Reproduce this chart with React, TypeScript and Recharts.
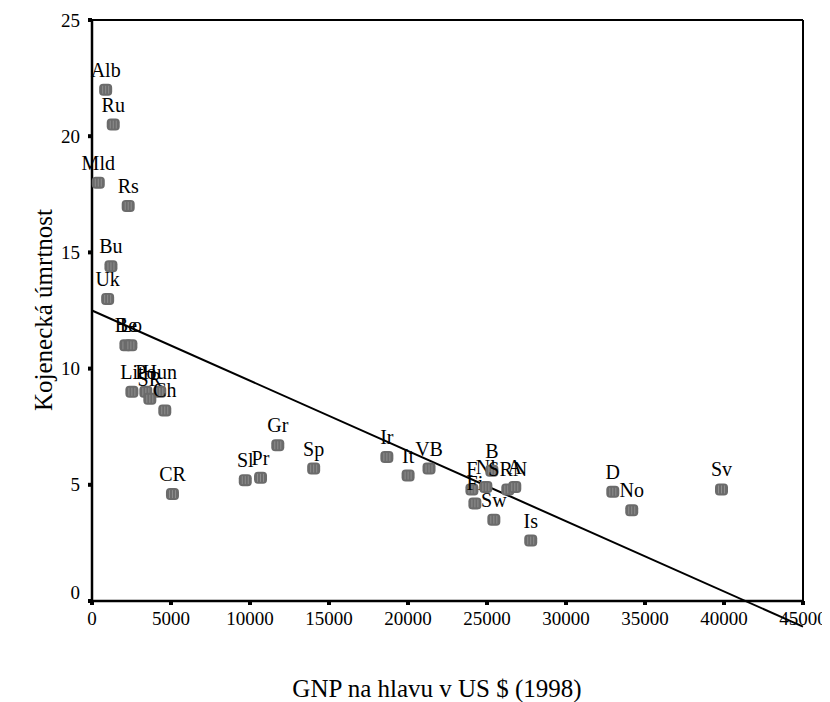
import React from "react";
import { ScatterChart, Scatter, XAxis, YAxis, ReferenceLine, Label } from "recharts";

// country codes as printed next to each point
const countries = [
  "Alb", "Ru", "Mld", "Rs", "Bu", "Uk", "Be", "Lo", "Lit", "Po", "SR", "Hun", "Ch",
  "CR", "Sl", "Pr", "Gr", "Sp", "Ir", "It", "VB", "F", "Fi", "Nl", "B", "Sw", "SRN",
  "A", "Is", "D", "No", "Sv",
];
// GNP per capita, US $ (1998)
const gnpPerCapita = [
  865, 1344, 398, 2291, 1199, 991, 2146, 2461, 2524, 3408, 3660, 4291, 4607,
  5093, 9700, 10666, 11758, 14030, 18662, 20006, 21331, 24045, 24234, 24928, 25307, 25433, 26317,
  26759, 27768, 32962, 34161, 39842,
];
// infant mortality
const infantMortality = [
  22.0, 20.5, 18.0, 17.0, 14.4, 13.0, 11.0, 11.0, 9.0, 9.0, 8.7, 9.0, 8.2,
  4.6, 5.2, 5.3, 6.7, 5.7, 6.2, 5.4, 5.7, 4.8, 4.2, 4.9, 5.6, 3.5, 4.8,
  4.9, 2.6, 4.7, 3.9, 4.8,
];

const xTicks = [0, 5000, 10000, 15000, 20000, 25000, 30000, 35000, 40000, 45000];
const yTicks = [0, 5, 10, 15, 20, 25];

// fitted regression line (start / end of the drawn segment)
const fitStart = { x: 0, y: 12.5 };
const fitEnd = { x: 45000, y: -1.1 };

const data = countries.map((name, i) => ({
  name,
  gnp: gnpPerCapita[i],
  mort: infantMortality[i],
}));

const FONT = "'Liberation Serif', 'Times New Roman', serif";

function Marker(props: any) {
  const { cx, cy, payload } = props;
  return (
    <g>
      <rect x={cx - 6.5} y={cy - 6} width={13} height={12} rx={4} fill="#6b6b6b" />
      <path
        d={`M${cx - 3} ${cy - 4}v8M${cx} ${cy - 4}v8M${cx + 3} ${cy - 4}v8`}
        stroke="#8e8e8e"
        strokeWidth={1}
      />
      <text x={cx} y={cy - 13} textAnchor="middle" fontSize={20} fontFamily={FONT} fill="#000">
        {payload.name}
      </text>
    </g>
  );
}

function XTick(props: any) {
  const { x, payload } = props;
  return (
    <text x={x} y={617} textAnchor="middle" fontSize={19} fontFamily={FONT} fill="#000">
      {payload.value}
    </text>
  );
}

function YTick(props: any) {
  const { y, payload } = props;
  const shift = payload.value === 0 ? -9 : 0;
  return (
    <text x={72} y={y + shift} dy="0.35em" textAnchor="end" fontSize={19} fontFamily={FONT} fill="#000">
      {payload.value}
    </text>
  );
}

export default function App() {
  return (
    <ScatterChart width={822} height={694} margin={{ top: 12, right: 27, bottom: 61, left: 0 }}>
      <XAxis
        type="number"
        dataKey="gnp"
        domain={[0, 45000]}
        ticks={xTicks}
        interval={0}
        tick={<XTick />}
        tickSize={4}
        tickLine={{ stroke: "#000", strokeWidth: 4 }}
        axisLine={{ stroke: "#000", strokeWidth: 2.5 }}
        height={40}
      >
        <Label
          content={() => (
            <text x={429} y={689} textAnchor="middle" fontSize={25} fontFamily={FONT} fill="#000">
              GNP na hlavu v US $ (1998)
            </text>
          )}
        />
      </XAxis>
      <YAxis
        type="number"
        dataKey="mort"
        domain={[0, 25]}
        ticks={yTicks}
        interval={0}
        tick={<YTick />}
        tickSize={4}
        tickLine={{ stroke: "#000", strokeWidth: 4 }}
        axisLine={{ stroke: "#000", strokeWidth: 2.5 }}
        width={84}
      >
        <Label
          content={() => (
            <text
              x={44}
              y={302}
              transform="rotate(-90, 44, 302)"
              textAnchor="middle"
              fontSize={25}
              fontFamily={FONT}
              fill="#000"
            >
              Kojenecká úmrtnost
            </text>
          )}
        />
      </YAxis>
      <ReferenceLine y={25} stroke="#000" strokeWidth={2} />
      <ReferenceLine x={45000} stroke="#000" strokeWidth={2} />
      <ReferenceLine
        segment={[fitStart, fitEnd]}
        ifOverflow="visible"
        stroke="#000"
        strokeWidth={2}
      />
      <Scatter data={data} shape={<Marker />} isAnimationActive={false} />
    </ScatterChart>
  );
}
